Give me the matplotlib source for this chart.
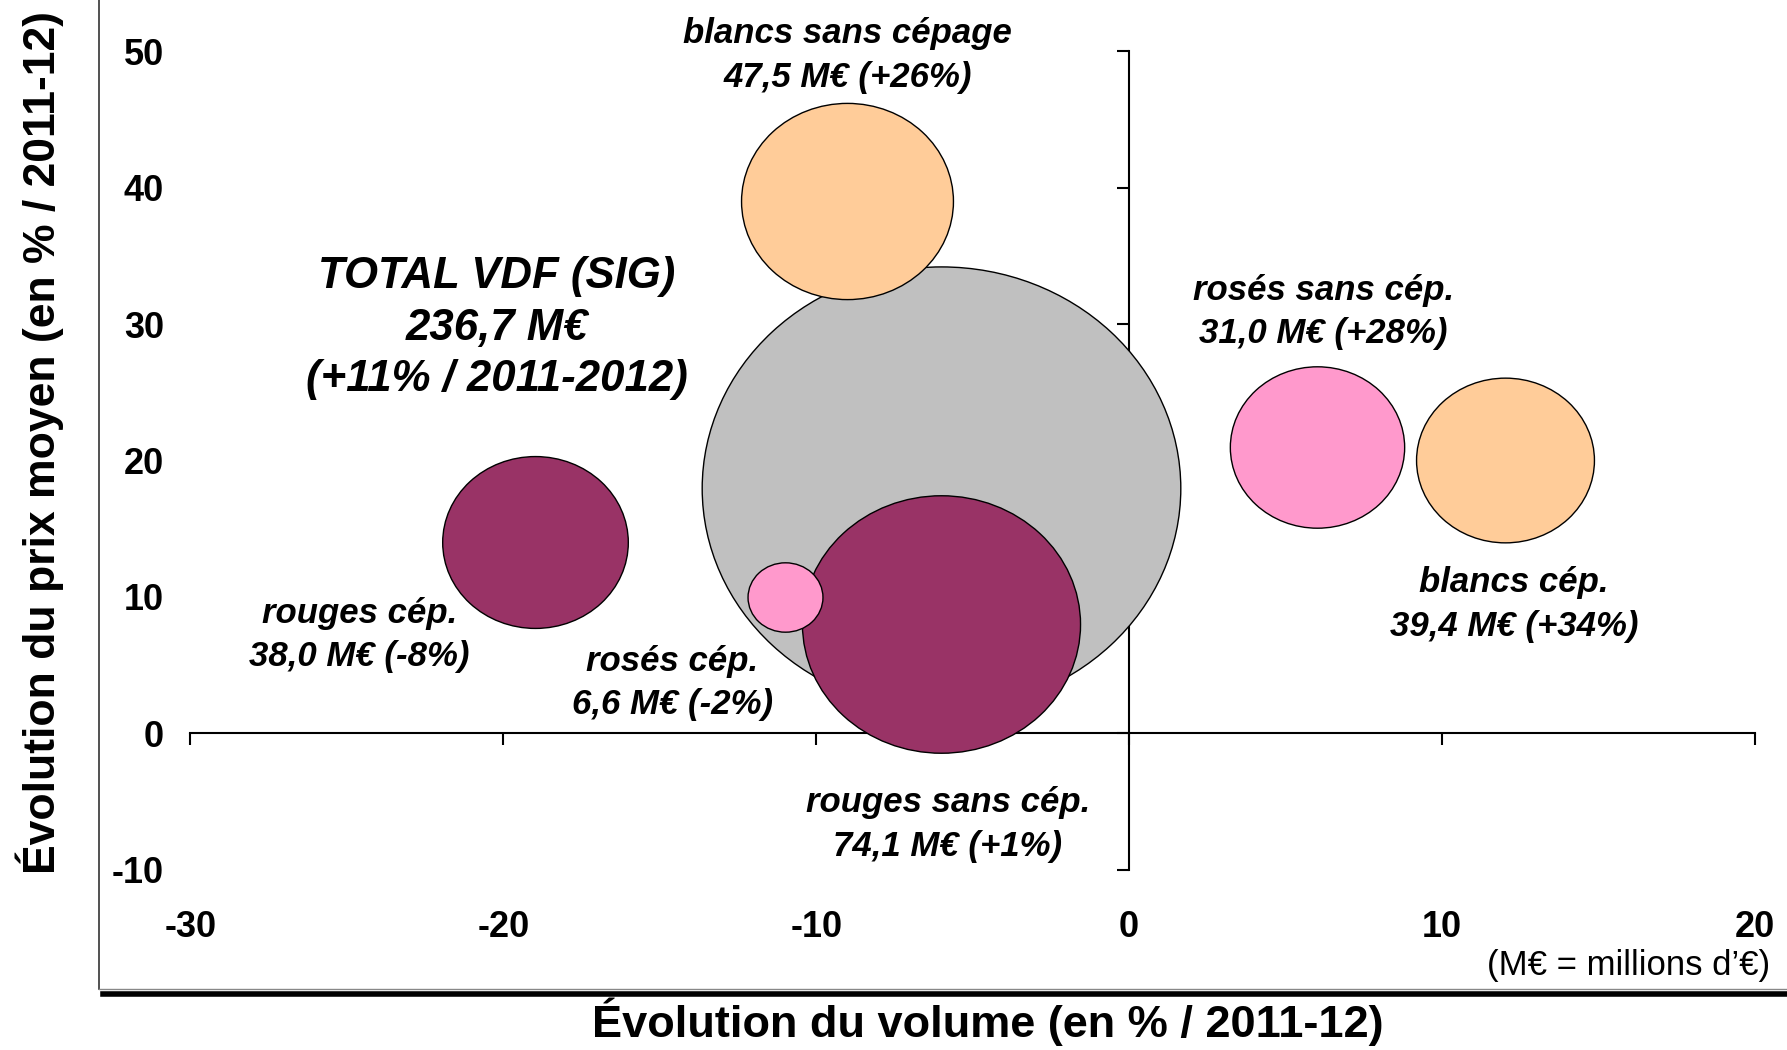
import matplotlib
matplotlib.use('Agg')
from matplotlib import pyplot as plt
from matplotlib.path import Path
from matplotlib.transforms import Affine2D
from matplotlib.lines import Line2D
import numpy as np

plt.rcParams['font.family'] = ['Liberation Sans', 'DejaVu Sans']
plt.rcParams['axes.unicode_minus'] = False

# données des bulles
noms = ['TOTAL VDF (SIG)', 'rouges sans cép.', 'blancs sans cépage', 'blancs cép.',
        'rouges cép.', 'rosés sans cép.', 'rosés cép.']
volume = [-6, -6, -9, 12, -19, 6, -11]          # évolution du volume (%)
prix = [18, 8, 39, 20, 14, 21, 10]               # évolution du prix moyen (%)
valeur = [236.7, 74.1, 47.5, 39.4, 38.0, 31.0, 6.6]   # M€
taille = [236.7, 79.9, 46.4, 32.7, 35.6, 31.4, 5.8]   # taille des bulles
evol_valeur = ['+11% / 2011-2012', '+1%', '+26%', '+34%', '-8%', '+28%', '-2%']
couleurs = ['#C0C0C0', '#993366', '#FFCC99', '#FFCC99', '#993366', '#FF99CC', '#FF99CC']

# position des étiquettes (coordonnées des données)
pos_etiq = [(-20.2, 29.7), (-5.8, -6.7), (-9.0, 49.7), (12.3, 9.45),
            (-24.6, 7.2), (6.2, 30.9), (-14.6, 3.7)]

x_ticks = [-30, -20, -10, 0, 10, 20]
y_ticks = [-10, 0, 10, 20, 30, 40, 50]

fig = plt.figure(figsize=(17.87, 10.5), dpi=100)
rect = [0.1065, 0.1718, 0.8756, 0.7793]
ax = fig.add_axes(rect)
ax.set_xlim(-30, 20)
ax.set_ylim(-10, 50)

# bulles en ellipses (largeur/hauteur ~1.08)
ell = Path.unit_circle().transformed(Affine2D().scale(1, 1 / 1.08))
k = 501.7
for i in range(len(noms)):
    ax.scatter(volume[i], prix[i], s=taille[i] * k, marker=ell, c=couleurs[i],
               edgecolors='black', linewidths=1.0, zorder=3 + i, clip_on=False)

# axes qui se croisent en 0
ax.spines['left'].set_position(('data', 0))
ax.spines['bottom'].set_position(('data', 0))
ax.spines['right'].set_visible(False)
ax.spines['top'].set_visible(False)
ax.spines['left'].set_linewidth(1.5)
ax.spines['bottom'].set_linewidth(1.5)
ax.spines['left'].set_zorder(1)
ax.spines['bottom'].set_zorder(1)
ax.set_xticks(x_ticks)
ax.set_yticks(y_ticks)
ax.tick_params(direction='out', length=8.5, width=1.5, labelleft=False, labelbottom=False)
ax.patch.set_visible(False)

# étiquettes des graduations sur les bords
lab = fig.add_axes(rect, sharex=ax, sharey=ax, frameon=False, zorder=-1)
lab.tick_params(length=0, labelsize=26)
lab.tick_params(axis='y', pad=19)
lab.tick_params(axis='x', pad=29)
for t in lab.get_xticklabels() + lab.get_yticklabels():
    t.set_fontweight('bold')

# étiquettes des bulles
for i in range(len(noms)):
    if i == 0:
        txt = noms[i] + '\n236,7 M€\n(' + evol_valeur[i] + ')'
        ax.text(pos_etiq[i][0], pos_etiq[i][1], txt, ha='center', va='center',
                fontsize=31.5, fontweight='bold', fontstyle='italic', zorder=20,
                linespacing=1.32)
    else:
        txt = noms[i] + '\n' + ('%.1f' % valeur[i]).replace('.', ',') + ' M€ (' + evol_valeur[i] + ')'
        ax.text(pos_etiq[i][0], pos_etiq[i][1], txt, ha='center', va='center',
                fontsize=25, fontweight='bold', fontstyle='italic', zorder=20,
                linespacing=1.4)

# titres des axes
fig.text(0.553, 1 - 1022 / 1050, 'Évolution du volume (en % / 2011-12)',
         ha='center', va='center', fontsize=32.5, fontweight='bold')
fig.text(40 / 1787, 1 - 443 / 1050, 'Évolution du prix moyen (en % / 2011-12)',
         ha='center', va='center', rotation=90, fontsize=32, fontweight='bold')
fig.text(1770 / 1787, 1 - 966 / 1050, '(M€ = millions d’€)',
         ha='right', va='center', fontsize=25)

# cadre avec ombre
fig.add_artist(Line2D([99 / 1787, 99 / 1787], [1.0, 1 - 989 / 1050],
                      transform=fig.transFigure, color='#333333', lw=1.2))
fig.add_artist(Line2D([99 / 1787, 1.0], [1 - 989 / 1050, 1 - 989 / 1050],
                      transform=fig.transFigure, color='#888888', lw=1.0))
fig.add_artist(Line2D([103 / 1787, 1.0], [1 - 993.5 / 1050, 1 - 993.5 / 1050],
                      transform=fig.transFigure, color='black', lw=4.0))

plt.savefig('out.png', dpi=100)
